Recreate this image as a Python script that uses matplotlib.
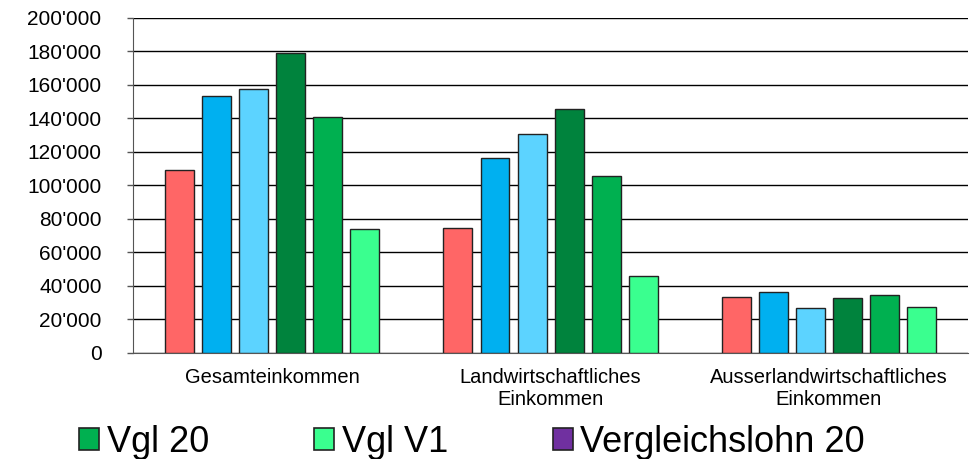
import numpy as np
import matplotlib.pyplot as plt
from matplotlib.ticker import FuncFormatter
from matplotlib.patches import Patch

plt.rcParams['font.family'] = ['Liberation Sans', 'DejaVu Sans']

categories = ["Gesamteinkommen", "Landwirtschaftliches\nEinkommen",
              "Ausserlandwirtschaftliches\nEinkommen"]
series_colors = ["#FF6666", "#00B0F0", "#5CD3FF", "#00833D", "#00B050", "#3AFF8F"]
values = [
    [109000, 74500, 33200],
    [153500, 116500, 36600],
    [157800, 130800, 26800],
    [179300, 145800, 32900],
    [141000, 105800, 34900],
    [74200, 46000, 27700],
]
legend_labels = ["Vgl 20", "Vgl V1", "Vergleichslohn 20"]
legend_colors = ["#00B050", "#3AFF8F", "#7030A0"]

fig = plt.figure(figsize=(9.77, 4.59), dpi=100)
ax = fig.add_axes([0.136, 0.231, 0.855, 0.730])

x = np.arange(len(categories))
pitch = 0.133
width = 0.104
n = len(values)
for i, (vals, col) in enumerate(zip(values, series_colors)):
    offs = (i - (n - 1) / 2) * pitch
    ax.bar(x + offs, vals, width=width, color=col, edgecolor="#222222",
           linewidth=1.0, zorder=3)

ax.set_xlim(-0.5, 2.5)
ax.set_ylim(0, 200000)
ax.set_yticks(np.arange(0, 200001, 20000))
ax.yaxis.set_major_formatter(FuncFormatter(lambda v, p: f"{v:,.0f}".replace(",", "'")))
ax.grid(axis="y", color="black", linewidth=1.0, zorder=0)
ax.set_xticks(x)
ax.set_xticklabels(categories, fontsize=14.5, linespacing=1.2)
ax.tick_params(axis="x", length=0, pad=11)
ax.tick_params(axis="y", labelsize=15, length=4.5, width=1, color="#555555", pad=18)
for s in ["top", "right"]:
    ax.spines[s].set_visible(False)
ax.spines["left"].set_color("#555555")
ax.spines["bottom"].set_color("#555555")

handles = [Patch(facecolor=c, edgecolor="#222222", linewidth=1.2) for c in legend_colors]
fig.legend(handles, legend_labels, loc="center left", bbox_to_anchor=(0.081, 0.037),
           ncol=3, frameon=False, handlelength=0.55, handleheight=0.55,
           handletextpad=0.22, columnspacing=2.9, borderaxespad=0, borderpad=0,
           prop={"size": 26})

fig.savefig("out.png", dpi=100)
